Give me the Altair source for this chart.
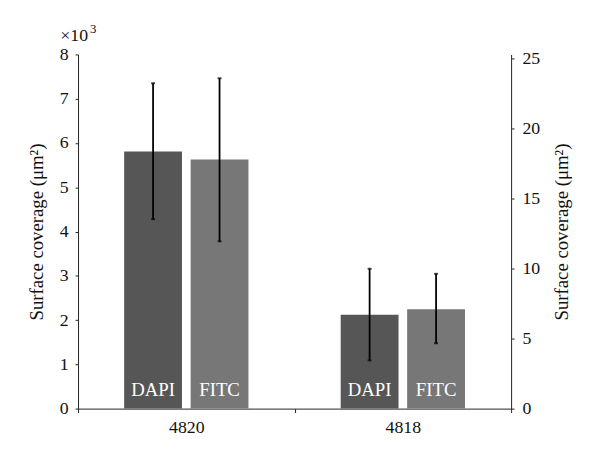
import altair as alt
import pandas as pd

groups = ["4820", "4818"]
series = ["DAPI", "FITC"]

dapi_mean = [5.81, 2.12]
dapi_low = [4.28, 1.09]
dapi_high = [7.35, 3.16]

fitc_mean = [17.8, 7.1]
fitc_low = [11.95, 4.67]
fitc_high = [23.6, 9.63]

left_ticks = [0, 1, 2, 3, 4, 5, 6, 7, 8]
right_ticks = [0, 5, 10, 15, 20, 25]
scale_base = ["×10"]
scale_exp = ["3"]

FONT = "Liberation Serif"
DAPI_COLOR = "#565656"
FITC_COLOR = "#777777"

dapi = pd.DataFrame({"group": groups, "series": "DAPI", "mean": dapi_mean,
                     "low": dapi_low, "high": dapi_high})
fitc = pd.DataFrame({"group": groups, "series": "FITC", "mean": fitc_mean,
                     "low": fitc_low, "high": fitc_high})

x_enc = alt.X("group:N", sort=groups,
              scale=alt.Scale(paddingInner=0, paddingOuter=0),
              axis=alt.Axis(title=None, labelAngle=0, tickBand="extent",
                            tickSize=4, labelPadding=6, labelFontSize=18,
                            labelFont=FONT, labelColor="#111",
                            domainColor="#222", tickColor="#222"))
xo_enc = alt.XOffset("series:N", sort=series,
                     scale=alt.Scale(domain=series, paddingInner=0.13,
                                     paddingOuter=0.694))

TITLE = "Surface coverage (μm²)"


def make_layer(df, color, domain, ticks, orient, title_pad, label_pad, baseline):
    y_enc = alt.Y("mean:Q",
                  scale=alt.Scale(domain=domain, nice=False, zero=True),
                  axis=alt.Axis(values=ticks, title=TITLE, orient=orient,
                                grid=False, tickSize=3, labelPadding=label_pad,
                                titlePadding=title_pad, titleAngle=270,
                                titleBaseline=baseline,
                                labelFont=FONT, titleFont=FONT,
                                labelFontSize=18, titleFontSize=19,
                                titleFontWeight="normal", labelColor="#111",
                                titleColor="#111", domainColor="#222",
                                tickColor="#222"))
    base = alt.Chart(df)
    bars = base.mark_bar(color=color).encode(x=x_enc, xOffset=xo_enc, y=y_enc)
    rule = base.mark_rule(color="black", strokeWidth=1.8).encode(
        x=x_enc, xOffset=xo_enc, y="low:Q", y2="high:Q")
    cap_hi = base.mark_tick(color="black", size=4, thickness=2).encode(
        x=x_enc, xOffset=xo_enc, y="high:Q")
    cap_lo = base.mark_tick(color="black", size=4, thickness=2).encode(
        x=x_enc, xOffset=xo_enc, y="low:Q")
    label = base.mark_text(color="white", font=FONT, fontSize=19,
                           baseline="middle", dy=-19).encode(
        x=x_enc, xOffset=xo_enc, y=alt.datum(0), text="series:N")
    return [bars, rule, cap_hi, cap_lo, label]


left_layers = make_layer(dapi, DAPI_COLOR, [0, 8], left_ticks, "left", 13, 7, "bottom")
note = alt.Chart(pd.DataFrame({"t": scale_base})).mark_text(
    align="left", baseline="alphabetic", font=FONT, fontSize=18,
    color="#111").encode(x=alt.value(-18), y=alt.value(-14), text="t:N")
note_exp = alt.Chart(pd.DataFrame({"t": scale_exp})).mark_text(
    align="left", baseline="alphabetic", font=FONT, fontSize=13,
    color="#111").encode(x=alt.value(12), y=alt.value(-22), text="t:N")
left = alt.layer(*left_layers, note, note_exp)

right_layers = make_layer(fitc, FITC_COLOR, [0, 25.3], right_ticks, "right", 13, 8, "top")
right = alt.layer(*right_layers)

chart = alt.layer(left, right).resolve_scale(y="independent").properties(
    width=439, height=359,
    autosize=alt.AutoSizeParams(type="none"),
    padding={"left": 71, "top": 44, "right": 82, "bottom": 51},
).configure_view(stroke=None)

chart.save("out.html", embed_options={"renderer": "svg", "actions": False})
